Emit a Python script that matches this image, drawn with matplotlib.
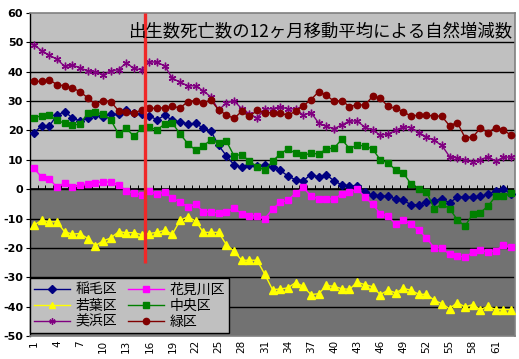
import matplotlib
matplotlib.use("Agg")
import matplotlib.pyplot as plt

plt.rcParams['font.family'] = ['Noto Sans CJK JP', 'DejaVu Sans']

months = list(range(1, 64))
xtick_labels = list(range(1, 64, 3))
yticks = list(range(-50, 61, 10))

inage = [19.1, 21.6, 21.5, 25.2, 26.4, 24.3, 23.2, 24.1, 25.3, 24.5,
         25.6, 25.5, 27.0, 25.9, 25.5, 25.0, 23.6, 25.2, 23.4, 23.0,
         22.2, 22.4, 20.8, 19.8, 14.9, 11.4, 8.3, 7.5, 8.2, 8.0,
         8.1, 7.6, 6.4, 4.5, 3.2, 2.9, 5.0, 4.2, 4.9, 2.8,
         1.5, 1.1, 1.0, -0.9, -2.0, -2.3, -2.4, -3.3, -3.8, -5.3,
         -5.3, -4.2, -4.0, -3.2, -4.7, -2.7, -2.7, -2.7, -2.4, -1.7,
         -0.6, 0.1, -1.8]
hanamigawa = [7.1, 4.2, 3.6, 0.6, 2.2, 0.6, 1.3, 1.9, 2.2, 2.5,
              2.4, 1.5, -0.6, -1.3, -1.9, -0.6, -1.8, -0.9, -3.1, -4.4,
              -6.0, -5.1, -7.7, -7.7, -8.1, -7.7, -6.5, -8.3, -9.1, -9.0,
              -10.1, -6.8, -4.5, -3.8, -1.3, 0.6, -2.4, -3.3, -3.3, -3.3,
              -1.7, -1.0, 0.2, -2.6, -5.2, -8.3, -9.2, -11.9, -10.6, -11.9,
              -14.0, -16.6, -20.0, -20.0, -22.2, -22.8, -23.1, -21.5, -20.8, -21.4,
              -20.9, -19.1, -19.7]
wakaba = [-12.3, -10.6, -11.1, -11.1, -14.5, -15.3, -15.1, -16.8, -19.2, -17.6,
          -16.6, -14.5, -14.8, -14.8, -15.5, -15.1, -14.7, -14.0, -15.3, -10.6,
          -9.4, -10.8, -14.7, -14.7, -14.7, -18.9, -21.1, -24.2, -24.2, -24.2,
          -29.0, -34.2, -34.0, -33.6, -31.8, -33.1, -35.9, -35.6, -32.8, -33.1,
          -33.9, -34.1, -31.7, -32.5, -33.2, -35.9, -34.4, -35.3, -33.8, -34.4,
          -35.8, -35.8, -37.8, -39.0, -40.7, -38.6, -40.1, -39.3, -41.0, -39.9,
          -41.0, -41.0, -41.0]
chuo = [24.3, 25.0, 25.2, 23.4, 22.5, 21.8, 22.2, 25.9, 26.3, 25.5,
        23.6, 18.8, 20.8, 18.0, 20.8, 21.1, 20.2, 22.2, 22.5, 18.8,
        15.5, 13.3, 14.8, 16.7, 15.7, 16.4, 11.4, 11.8, 9.5, 7.7,
        6.4, 9.5, 12.0, 13.7, 12.2, 11.6, 12.2, 12.0, 13.7, 14.0,
        17.0, 13.8, 15.0, 14.7, 13.7, 10.0, 8.9, 6.6, 5.5, 1.7,
        -0.1, -0.8, -6.6, -5.1, -6.6, -10.4, -12.6, -8.5, -8.0, -5.7,
        -2.4, -2.4, -1.3]
mihama = [49.2, 47.2, 45.6, 44.3, 41.8, 42.3, 41.3, 40.3, 40.0, 38.9,
          40.3, 40.7, 43.0, 41.1, 40.7, 43.4, 43.2, 42.0, 37.7, 36.5,
          35.2, 35.2, 33.5, 31.4, 26.9, 29.4, 30.1, 27.4, 25.7, 24.2,
          27.3, 27.4, 28.0, 27.4, 27.3, 25.2, 26.1, 22.5, 21.4, 20.6,
          21.9, 23.2, 23.2, 21.1, 20.2, 18.4, 18.8, 20.0, 21.3, 20.9,
          19.3, 17.8, 16.6, 14.9, 11.1, 10.6, 10.0, 9.2, 10.0, 11.1,
          9.5, 10.9, 10.9]
midori = [36.7, 36.7, 37.3, 35.6, 35.2, 34.5, 33.2, 31.1, 28.9, 30.2,
          29.8, 26.7, 26.4, 25.9, 27.0, 27.5, 27.6, 27.7, 28.2, 27.7,
          29.8, 30.2, 29.5, 30.3, 27.0, 25.3, 24.1, 26.5, 24.8, 26.8,
          26.1, 26.1, 25.9, 25.2, 26.5, 28.4, 30.5, 33.2, 32.0, 29.9,
          30.2, 28.1, 28.8, 28.6, 31.6, 31.0, 28.2, 27.5, 26.4, 24.8,
          25.3, 25.1, 25.0, 24.8, 21.6, 22.7, 17.6, 17.7, 20.8, 19.3,
          21.0, 20.2, 18.3]

marker_month = 15.5
marker_range = (-25, 60)

title = "出生数死亡数の12ヶ月移動平均による自然増減数"

fig = plt.figure(figsize=(5.19, 3.59), dpi=100)
ax = fig.add_axes([30/519, 23/359, 485/519, 323/359])

ax.set_xlim(0.5, 63.5)
ax.set_ylim(-50, 60)

# backgrounds
ax.axhspan(0, 60, color='#C0C0C0', zorder=0, lw=0)
ax.axhspan(-50, 0, color='#727272', zorder=0, lw=0)
for v in yticks:
    if -50 < v < 60:
        ax.axhline(v, color='black', lw=1.0, zorder=1)

series = [
    ("稲毛区", inage, '#000080', 'D', 4.0),
    ("花見川区", hanamigawa, '#FF00FF', 's', 4.6),
    ("若葉区", wakaba, '#FFFF00', '^', 5.3),
    ("中央区", chuo, '#008000', 's', 3.8),
    ("美浜区", mihama, '#800080', (6, 2, 0), 5.5),
    ("緑区", midori, '#800000', 'o', 4.6),
]
handles = {}
for name, vals, col, mk, ms in series:
    h, = ax.plot(months, vals, color=col, lw=1.0, marker=mk, markersize=ms,
                 markerfacecolor=col, markeredgecolor=col, markeredgewidth=1.0,
                 zorder=3, label=name)
    handles[name] = h

ax.vlines(marker_month, marker_range[0], marker_range[1], color='#F02828', lw=2.4, zorder=4)

# axis ticks
ax.set_yticks(yticks)
ax.set_yticklabels([str(v) for v in yticks], fontsize=8, fontweight='bold',
                   family=['DejaVu Sans'])
ax.tick_params(axis='y', length=3, width=0.8, pad=2)

ax.set_xticks(xtick_labels)
ax.set_xticklabels([str(v) for v in xtick_labels], rotation=90, fontsize=7.5,
                   family=['DejaVu Sans'])
ax.tick_params(axis='x', length=0, pad=3)

# small category ticks on zero line
boundaries = [m + 0.5 for m in months[:-1]]
ax.plot(boundaries, [0]*len(boundaries), linestyle='none', marker=2,
        markersize=3, color='black', markeredgewidth=0.7, zorder=2)
ax.axhline(0, color='black', lw=1.2, zorder=2)

for s in ['top', 'right', 'bottom']:
    ax.spines[s].set_color('#808080')
    ax.spines[s].set_linewidth(1.2)
ax.spines['left'].set_color('black')
ax.spines['left'].set_linewidth(1.0)

ax.text(0.995, 0.94, title, transform=ax.transAxes, ha='right', va='center',
        fontsize=12.5, color='black', zorder=5)

order = ["稲毛区", "若葉区", "美浜区", "花見川区", "中央区", "緑区"]
leg = ax.legend([handles[n] for n in order], order, ncol=2, loc='lower left',
                bbox_to_anchor=(0.0, 0.01, 0.41, 0.205), mode='expand',
                fontsize=10, frameon=True, fancybox=False, framealpha=1,
                facecolor='#C0C0C0', edgecolor='black', handlelength=2.6,
                borderpad=0.3, labelspacing=0.15, columnspacing=0.8,
                handletextpad=0.4, borderaxespad=0)
leg.get_frame().set_linewidth(1.0)
leg.set_zorder(6)
for h in leg.legend_handles:
    h.set_markersize(4.5)

fig.savefig("out.png", dpi=100, facecolor='white')
